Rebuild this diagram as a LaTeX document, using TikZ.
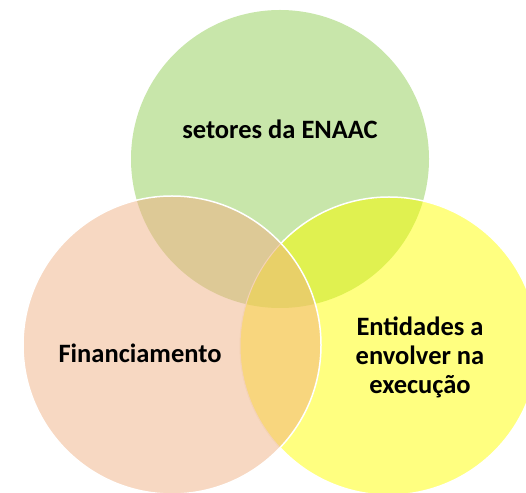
\documentclass[tikz,border=0pt]{standalone}
\usepackage{fontspec}
\setmainfont{Carlito}
\usepackage{xcolor}
\usetikzlibrary{positioning}
\definecolor{verde}{HTML}{C8E6AA}
\definecolor{pessego}{HTML}{F7D8C2}
\definecolor{amarelo}{HTML}{FFFF80}
\definecolor{verdepessego}{HTML}{DDC996}
\definecolor{verdeamarelo}{HTML}{E0F150}
\definecolor{pessegoamarelo}{HTML}{F8D67E}
\definecolor{triplo}{HTML}{E8D068}
\definecolor{bordarosa}{HTML}{F4D2B6}

\begin{document}
\begin{tikzpicture}[x=1pt, y=1pt]
        \tikzstyle{rotulo} = [font=\bfseries\fontsize{26.5}{29}\selectfont, text=black, align=center]
        \tikzstyle{borda} = [draw=white, line width=1.5pt]
        \def\raio{149pt}
        \useasboundingbox (0,0) rectangle (526,492);

        \coordinate (cv) at (280,333);
        \coordinate (cp) at (172,147);
        \coordinate (ca) at (389,146);

        % circulo verde
        \fill [verde] (cv) circle (\raio);

        % circulo amarelo
        \fill [amarelo] (ca) circle (\raio);
        \begin{scope}
            \clip (cv) circle (\raio);
            \fill [verdeamarelo] (ca) circle (\raio);
        \end{scope}
        \draw [borda] (ca) circle (\raio);

        % circulo pessego
        \fill [pessego] (cp) circle (\raio);
        \begin{scope}
            \clip (cv) circle (\raio);
            \fill [verdepessego] (cp) circle (\raio);
        \end{scope}
        \begin{scope}
            \clip (ca) circle (\raio);
            \fill [pessegoamarelo] (cp) circle (\raio);
        \end{scope}
        \begin{scope}
            \clip (cv) circle (\raio);
            \clip (ca) circle (\raio);
            \fill [triplo] (cp) circle (\raio);
        \end{scope}
        \begin{scope}
            \clip (cp) circle (\raio);
            \draw [bordarosa, line width=1pt] (ca) circle (\raio);
        \end{scope}
        \draw [borda] (cp) circle (\raio);

        \node (setores) [rotulo] at (280,363) {setores da ENAAC};
        \node (financ) [rotulo] at (140,139) {Financiamento};
        \node (entidades) [rotulo] at (420,135) {Entidades a\\envolver na\\execução};
    \end{tikzpicture}
\end{document}
